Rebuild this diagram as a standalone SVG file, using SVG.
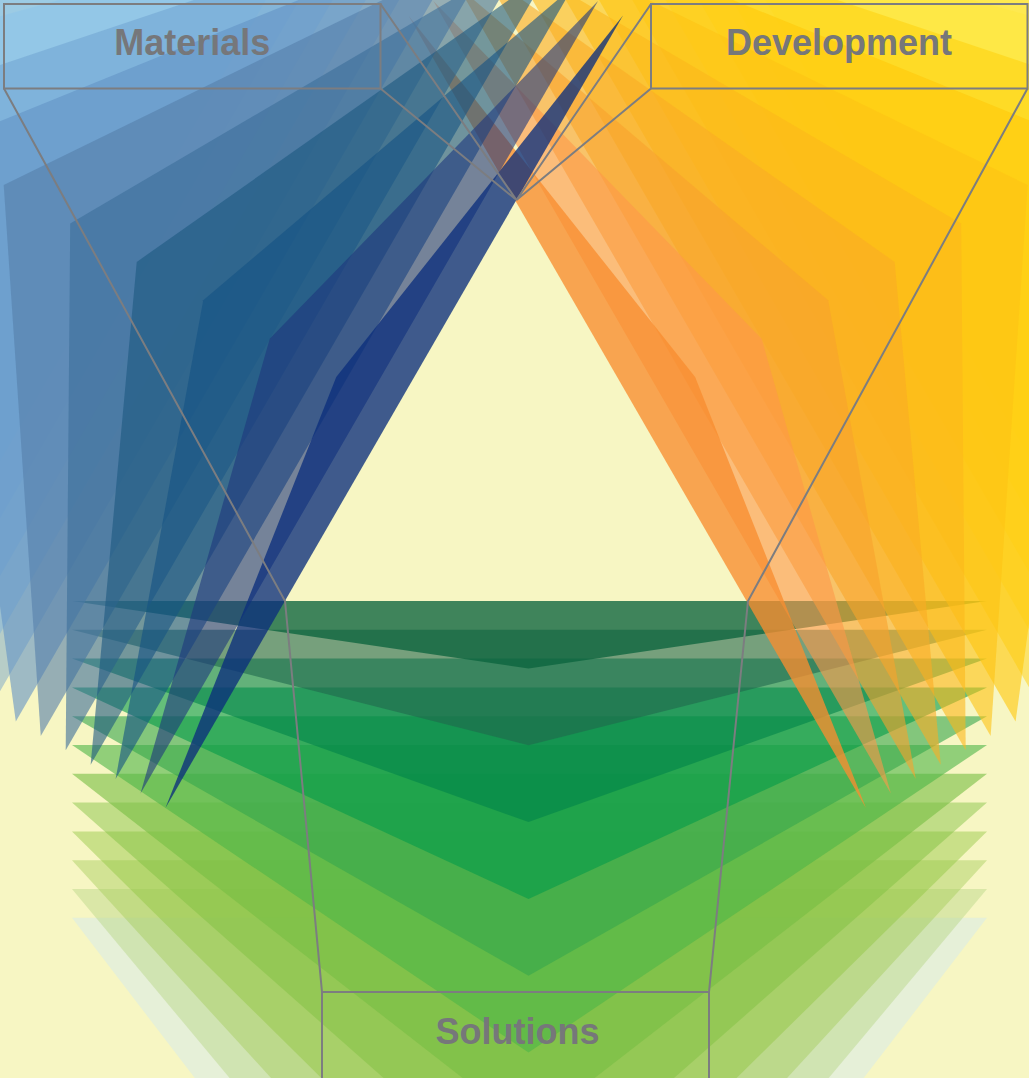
<svg xmlns="http://www.w3.org/2000/svg" width="1029" height="1078" viewBox="0 0 1029 1078">
<style>
.a0{fill-opacity:.78}.a1,.a2,.a3,.a4,.a5,.a6{fill-opacity:.6}.a7,.a8,.a9,.a10,.a11{fill-opacity:.45}
.ln{fill:none;stroke:#7c7d80;stroke-width:2}
.lbl{font-family:"Liberation Sans",Arial,sans-serif;font-weight:bold;font-size:36px;fill:#76777a;text-anchor:middle}
</style>
<defs>
<polygon id="t0" points="72,601 987,601 528.5,668.5"/>
<polygon id="t1" points="72,629.8 987,629.8 528.5,745.3"/>
<polygon id="t2" points="72,658.6 987,658.6 528.5,822.1"/>
<polygon id="t3" points="72,687.4 987,687.4 528.5,898.9"/>
<polygon id="t4" points="72,716.2 987,716.2 528.5,975.7"/>
<polygon id="t5" points="72,745 987,745 528.5,1052.5"/>
<polygon id="t6" points="72,773.8 987,773.8 528.5,1129.3"/>
<polygon id="t7" points="72,802.6 987,802.6 528.5,1206.1"/>
<polygon id="t8" points="72,831.4 987,831.4 528.5,1282.9"/>
<polygon id="t9" points="72,860.2 987,860.2 528.5,1359.7"/>
<polygon id="t10" points="72,889 987,889 528.5,1436.5"/>
<polygon id="t11" points="72,917.8 987,917.8 528.5,1513.3"/>
</defs>
<rect width="1029" height="1078" fill="#f7f6c3"/>
<g id="green-stack">
<use href="#t11" class="a11" fill="#d1e9f2"/>
<use href="#t10" class="a10" fill="#b5d586"/>
<use href="#t9" class="a9" fill="#a4cc5c"/>
<use href="#t8" class="a8" fill="#90c540"/>
<use href="#t7" class="a7" fill="#7cbe3e"/>
<use href="#t6" class="a6" fill="#76be42"/>
<use href="#t5" class="a5" fill="#4db547"/>
<use href="#t4" class="a4" fill="#35a74c"/>
<use href="#t3" class="a3" fill="#039b49"/>
<use href="#t2" class="a2" fill="#00834a"/>
<use href="#t1" class="a1" fill="#20674d"/>
<use href="#t0" class="a0" fill="#0c643e"/>
</g>
<g id="orange-stack" transform="translate(1031.4 0) scale(-1 1) rotate(120 516.5 467.3)">
<use href="#t11" class="a11" fill="#ffe739"/>
<use href="#t10" class="a10" fill="#ffe739"/>
<use href="#t9" class="a9" fill="#ffe739"/>
<use href="#t8" class="a8" fill="#ffe739"/>
<use href="#t7" class="a7" fill="#ffcd00"/>
<use href="#t6" class="a6" fill="#ffc80a"/>
<use href="#t5" class="a5" fill="#fdc314"/>
<use href="#t4" class="a4" fill="#fcb71b"/>
<use href="#t3" class="a3" fill="#faac25"/>
<use href="#t2" class="a2" fill="#f8a12d"/>
<use href="#t1" class="a1" fill="#fe9749"/>
<use href="#t0" class="a0" fill="#f88d30"/>
</g>
<g id="blue-stack" transform="rotate(120 516.5 467.3)">
<use href="#t11" class="a11" fill="#89c3ea"/>
<use href="#t10" class="a10" fill="#89c3ea"/>
<use href="#t9" class="a9" fill="#89c3ea"/>
<use href="#t8" class="a8" fill="#89c3ea"/>
<use href="#t7" class="a7" fill="#699ccb"/>
<use href="#t6" class="a6" fill="#6293c4"/>
<use href="#t5" class="a5" fill="#557faa"/>
<use href="#t4" class="a4" fill="#3c6e9a"/>
<use href="#t3" class="a3" fill="#1d5981"/>
<use href="#t2" class="a2" fill="#145283"/>
<use href="#t1" class="a1" fill="#1e377d"/>
<use href="#t0" class="a0" fill="#0b2e7c"/>
</g>
<g id="connectors" class="ln">
<path d="M4,88.5 L285,601 L322,992"/>
<path d="M380.5,88.5 L516.5,200 L380.5,4"/>
<path d="M651,4 L516.5,200 L651,88.5"/>
<path d="M1027.5,88.5 L748,601 L709,992"/>
</g>
<g id="materials">
<rect class="ln" x="4" y="4" width="376.5" height="84.5"/>
<text class="lbl" x="192.3" y="55">Materials</text>
</g>
<g id="development">
<rect class="ln" x="651" y="4" width="376.5" height="84.5"/>
<text class="lbl" x="839" y="55">Development</text>
</g>
<g id="solutions">
<path class="ln" d="M322,1080 V992 H709 V1080"/>
<text class="lbl" x="517.5" y="1044">Solutions</text>
</g>
</svg>
